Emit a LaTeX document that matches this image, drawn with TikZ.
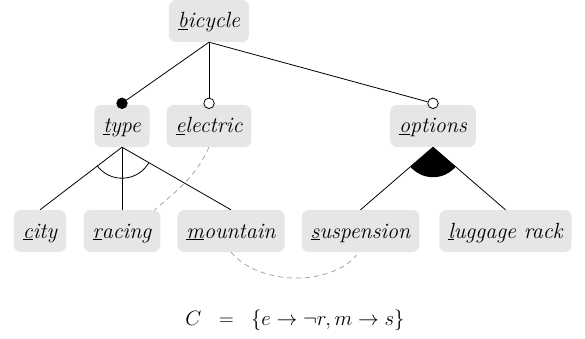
\documentclass[tikz,border=0pt]{standalone}
\definecolor{boxgray}{HTML}{E6E6E6}
\definecolor{dashgray}{HTML}{999999}
\tikzset{
  feat/.style={fill=boxgray, rounded corners=7pt, inner xsep=9pt, inner ysep=9pt,
    text height=19pt, text depth=5pt, font=\fontsize{22}{26}\selectfont\itshape},
  edge/.style={line width=0.8pt},
  opt/.style={circle, draw, line width=0.8pt, fill=white, inner sep=0pt, minimum size=10.5pt},
  mand/.style={circle, draw, line width=0.8pt, fill=black, inner sep=0pt, minimum size=10.5pt},
  cons/.style={draw=dashgray, line width=0.7pt, dash pattern=on 5pt off 4pt},
}
\begin{document}
\begin{tikzpicture}[x=1pt,y=-1pt]
\useasboundingbox (0,0) rectangle (585,339);
\node[feat] (bicycle) at (209,21) {\underline{b}icycle};
\node[feat] (type) at (122,126) {\underline{t}ype};
\node[feat] (electric) at (209,126) {\underline{e}lectric};
\node[feat] (options) at (433,126) {\underline{o}ptions};
\node[feat] (city) at (40,231) {\underline{c}ity};
\node[feat] (racing) at (122,231) {\underline{r}acing};
\node[feat] (mountain) at (231,231) {\underline{m}ountain};
\node[feat] (suspension) at (360.5,231) {\underline{s}uspension};
\node[feat] (luggage) at (505.5,231) {\underline{l}uggage rack};
\node[font=\fontsize{21}{25}\selectfont] (constr) at (295,320) {$C\;\;=\;\;\{e\rightarrow\neg r, m\rightarrow s\}$};

% dashed cross-tree constraints
\draw[cons] (electric.south) to[out=-115, in=40] ([xshift=-6pt]racing.north east);
\draw[cons] (mountain.south) .. controls +(30,35) and +(-25,30) .. ([xshift=-4pt,yshift=-3pt]suspension.south);

% circles on top of feature boxes
\node[mand] (ctype) at ([yshift=1.5pt]type.north) {};
\node[opt] (celectric) at ([yshift=1.5pt]electric.north) {};
\node[opt] (coptions) at ([yshift=1.5pt]options.north) {};
\draw[edge] (bicycle.south) -- (ctype);
\draw[edge] (bicycle.south) -- (celectric);
\draw[edge] (bicycle.south) -- (coptions);

% or-group under type
\draw[edge] (type.south) -- (city.north);
\draw[edge] (type.south) -- (racing.north);
\draw[edge] (type.south) -- (mountain.north);
\begin{scope}
  \clip (type.south) -- (city.north) -- (mountain.north) -- cycle;
  \draw[edge] (type.south) circle (31pt);
\end{scope}

% alternative-group under options
\draw[edge] (options.south) -- (suspension.north);
\draw[edge] (options.south) -- (luggage.north);
\begin{scope}
  \clip (options.south) -- (suspension.north) -- (luggage.north) -- cycle;
  \fill (options.south) circle (30pt);
\end{scope}
\end{tikzpicture}
\end{document}
